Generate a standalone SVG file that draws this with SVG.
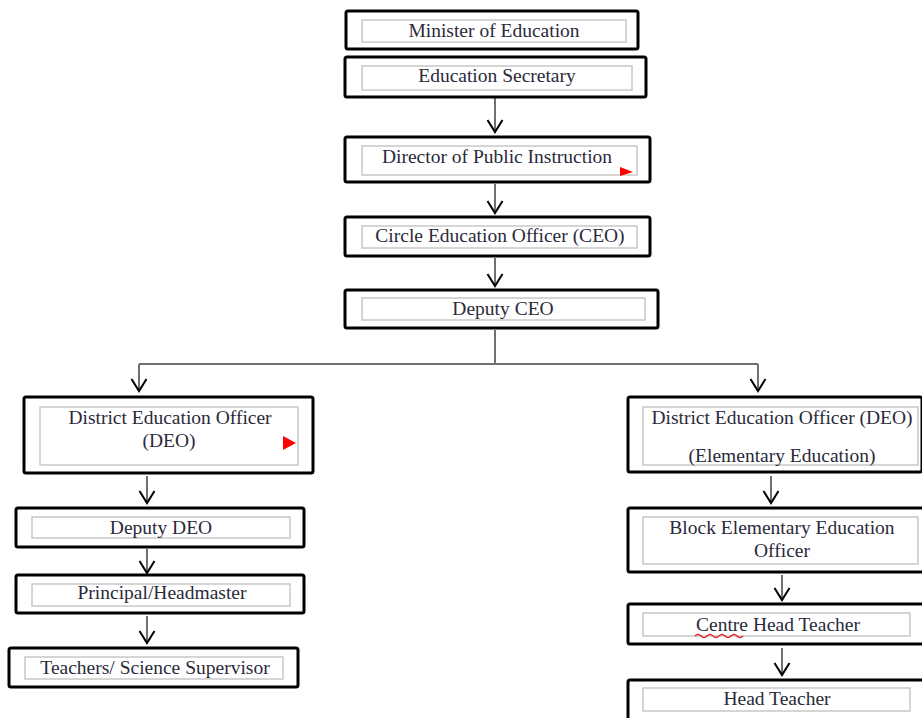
<svg xmlns="http://www.w3.org/2000/svg" width="922" height="718" viewBox="0 0 922 718">
<style>
.ob{fill:#fff;stroke:#000;stroke-width:3}
.ib{fill:none;stroke:#c8c8c8;stroke-width:1.5}
.t{font-family:"Liberation Serif","Times New Roman",serif;font-size:19.5px;fill:#2a2a3a;text-anchor:middle}
.c{fill:none;stroke:#707070;stroke-width:2}
.a{marker-end:url(#v)}
.flag{fill:#ff0000}
</style>
<defs>
<marker id="v" markerUnits="userSpaceOnUse" viewBox="-1 -9 15 18" refX="12" refY="0" markerWidth="15" markerHeight="18" orient="auto">
<path d="M0,-7.5 L12,0 L0,7.5" fill="none" stroke="#000" stroke-width="2"/>
</marker>
</defs>
<rect width="922" height="718" fill="#fff"/>
<g id="connectors">
<line class="c a" x1="495" y1="98" x2="495" y2="132"/>
<line class="c a" x1="495" y1="184" x2="495" y2="213"/>
<line class="c a" x1="495" y1="258" x2="495" y2="286"/>
<path class="c" d="M495,330 V364 M139,364 H758"/>
<line class="c a" x1="139" y1="364" x2="139" y2="391"/>
<line class="c a" x1="758" y1="364" x2="758" y2="391"/>
<line class="c a" x1="147" y1="476" x2="147" y2="503"/>
<line class="c a" x1="147" y1="549" x2="147" y2="573"/>
<line class="c a" x1="147" y1="616" x2="147" y2="643"/>
<line class="c a" x1="771" y1="476" x2="771" y2="503"/>
<line class="c a" x1="782" y1="575" x2="782" y2="600"/>
<line class="c a" x1="782" y1="648" x2="782" y2="675"/>
</g>
<g id="minister">
<rect class="ob" x="346" y="11" width="292" height="38" rx="2"/>
<rect class="ib" x="362" y="20" width="264" height="22"/>
<text class="t" x="494" y="37">Minister of Education</text>
</g>
<g id="secretary">
<rect class="ob" x="345" y="57" width="301" height="40" rx="2"/>
<rect class="ib" x="362" y="66" width="270" height="24"/>
<text class="t" x="497" y="82">Education Secretary</text>
</g>
<g id="director">
<rect class="ob" x="345" y="137" width="305" height="45" rx="2"/>
<rect class="ib" x="362" y="146" width="275" height="29"/>
<text class="t" x="497" y="163">Director of Public Instruction</text>
<polygon class="flag" points="620,167 633,172 620,176"/>
</g>
<g id="ceo">
<rect class="ob" x="345" y="217" width="305" height="39" rx="2"/>
<rect class="ib" x="362" y="226" width="275" height="22"/>
<text class="t" x="500" y="242">Circle Education Officer (CEO)</text>
</g>
<g id="deputy-ceo">
<rect class="ob" x="345" y="290" width="313" height="38" rx="2"/>
<rect class="ib" x="362" y="298" width="283" height="22"/>
<text class="t" x="503" y="315">Deputy CEO</text>
</g>
<g id="deo-left">
<rect class="ob" x="24" y="397" width="289" height="76" rx="2"/>
<rect class="ib" x="40" y="407" width="258" height="58"/>
<text class="t" x="170" y="424">District Education Officer</text>
<text class="t" x="169" y="447">(DEO)</text>
<polygon class="flag" points="283,436 296,443 283,450"/>
</g>
<g id="deputy-deo">
<rect class="ob" x="16" y="508" width="288" height="39" rx="2"/>
<rect class="ib" x="32" y="517" width="258" height="21"/>
<text class="t" x="161" y="534">Deputy DEO</text>
</g>
<g id="principal">
<rect class="ob" x="16" y="575" width="288" height="38" rx="2"/>
<rect class="ib" x="32" y="584" width="258" height="22"/>
<text class="t" x="162" y="599">Principal/Headmaster</text>
</g>
<g id="teachers">
<rect class="ob" x="9" y="648" width="289" height="39" rx="2"/>
<rect class="ib" x="25" y="657" width="258" height="22"/>
<text class="t" x="155" y="674">Teachers/ Science Supervisor</text>
</g>
<g id="deo-right">
<rect class="ob" x="628" y="397" width="294" height="75" rx="2"/>
<rect class="ib" x="643" y="407" width="275" height="58"/>
<text class="t" x="782" y="424">District Education Officer (DEO)</text>
<text class="t" x="782" y="462">(Elementary Education)</text>
</g>
<g id="beeo">
<rect class="ob" x="628" y="508" width="296" height="64" rx="2"/>
<rect class="ib" x="643" y="517" width="275" height="47"/>
<text class="t" x="782" y="534">Block Elementary Education</text>
<text class="t" x="782" y="557">Officer</text>
</g>
<g id="centre-head">
<rect class="ob" x="628" y="604" width="296" height="40" rx="2"/>
<rect class="ib" x="643" y="613" width="267" height="23"/>
<text class="t" x="778" y="631">Centre Head Teacher</text>
<path d="M695,636 q3,-3 6,0 t6,0 t6,0 t6,0 t6,0 t6,0 t6,0 t6,0" fill="none" stroke="#e02020" stroke-width="1.2"/>
</g>
<g id="head-teacher">
<rect class="ob" x="628" y="680" width="296" height="45" rx="2"/>
<rect class="ib" x="643" y="688" width="267" height="23"/>
<text class="t" x="777" y="705">Head Teacher</text>
</g>
</svg>
